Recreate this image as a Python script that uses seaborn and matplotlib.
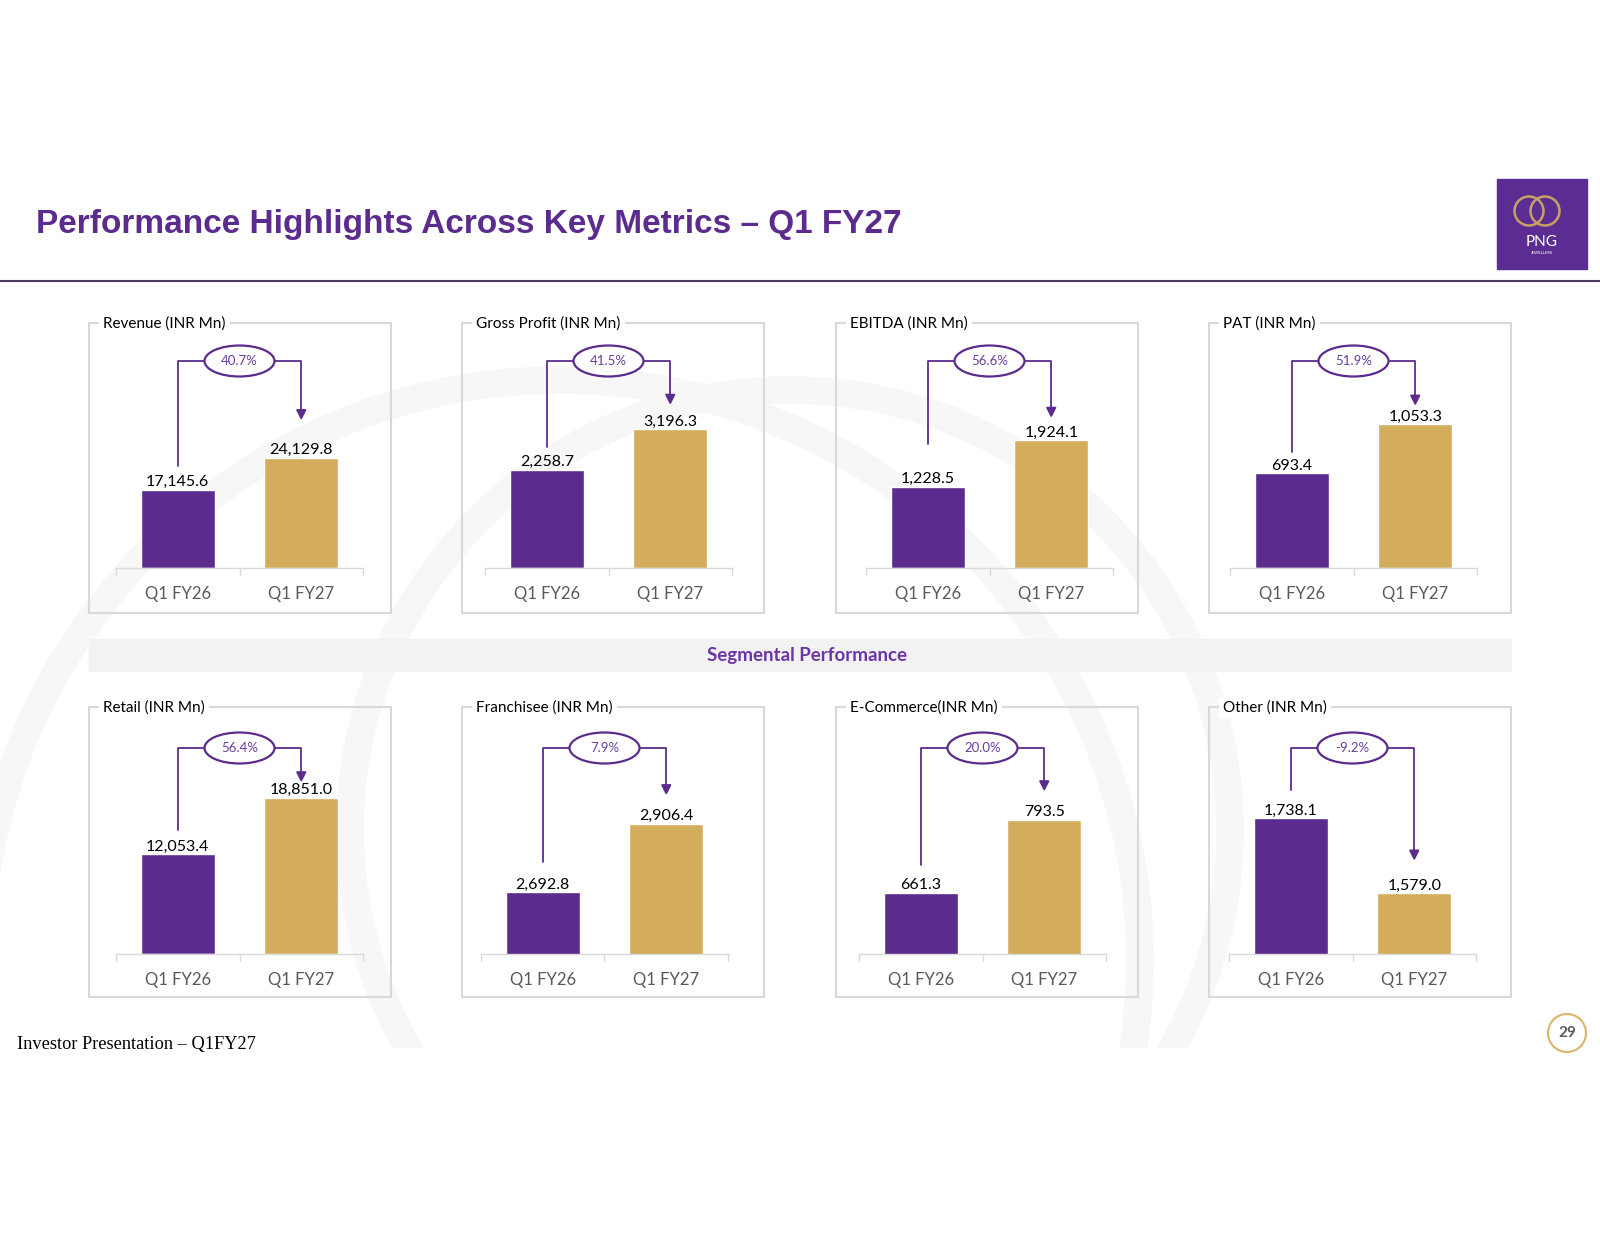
import matplotlib
matplotlib.use("Agg")
import matplotlib.pyplot as plt
import seaborn as sns
import pandas as pd
from matplotlib.patches import Rectangle, Ellipse, Polygon
from matplotlib.lines import Line2D

# ---- data ----
periods = ["Q1 FY26", "Q1 FY27"]
metric_titles = ["Revenue (INR Mn)", "Gross Profit (INR Mn)", "EBITDA (INR Mn)", "PAT (INR Mn)",
                 "Retail (INR Mn)", "Franchisee (INR Mn)", "E-Commerce(INR Mn)", "Other (INR Mn)"]
q1_fy26 = [17145.6, 2258.7, 1228.5, 693.4, 12053.4, 2692.8, 661.3, 1738.1]
q1_fy27 = [24129.8, 3196.3, 1924.1, 1053.3, 18851.0, 2906.4, 793.5, 1579.0]
growth_labels = ["40.7%", "41.5%", "56.6%", "51.9%", "56.4%", "7.9%", "20.0%", "-9.2%"]

# value axis ranges of the original Excel charts
y_lower = [0, 0, 0, 0, 0, 2500, 550, 1450]
y_upper = [45300, 4775, 3122, 1517, 24880, 3143, 924, 1887]

PURPLE = "#5B2C8E"
GOLD = "#D3AD5B"
GREY_LINE = "#D9D9D9"

sns.set_theme(style="white")
plt.rcParams['font.family'] = ['Lato', 'DejaVu Sans']

W, H = 1600, 1236
fig = plt.figure(figsize=(16, 12.36), dpi=100)
fig.patch.set_facecolor("white")


def fx(x):
    return x / W


def fy(y):
    return 1 - y / H


# faint watermark rings behind the charts
clip = Rectangle((0, fy(1048)), 1, (1048 - 285) / H, transform=fig.transFigure)
for (cx, cy, r) in [(560, 960, 580), (790, 830, 440)]:
    ring = Ellipse((fx(cx), fy(cy)), 2 * r / W, 2 * r / H, fill=False,
                   edgecolor="#F7F7F7", lw=20, transform=fig.transFigure, zorder=0)
    fig.add_artist(ring)
    ring.set_clip_path(clip)

# header
fig.text(fx(36), fy(224), "Performance Highlights Across Key Metrics \u2013 Q1 FY27",
         family="Liberation Sans", weight="bold", size=24, color=PURPLE, va="center")
fig.add_artist(Line2D([0, 1], [fy(281), fy(281)], color="#4A3B63", lw=1.5,
                      transform=fig.transFigure))

# logo
fig.add_artist(Rectangle((fx(1497), fy(269)), 90 / W, 90 / H, color="#5B2C91",
                         transform=fig.transFigure))
for cx in [1529, 1545]:
    fig.add_artist(Ellipse((fx(cx), fy(211)), 29 / W, 29 / H, fill=False,
                           edgecolor="#C9A063", lw=1.8, transform=fig.transFigure))
fig.text(fx(1542), fy(242), "PNG", color="white", size=11, ha="center", va="center")
fig.text(fx(1542), fy(253), "JEWELLERS", color="white", size=3, ha="center", va="center")

# panel layout (pixels)
col_left = [89, 462, 836, 1209]
row_top = [323, 707]
panel_w, panel_h = 302, 290
baseline = [568, 954]
axes_top = [361, 748]
ax_off = [27, 23, 30, 21, 27, 19, 23, 20]
ax_w = 247
left_gap = [24, 23, 43, 21, 24, 30, 28, 28]
tip_gap = [39, 26, 24, 20, 17, 30, 30, 34]

# segmental band
fig.add_artist(Rectangle((fx(89), fy(671)), (1511 - 89) / W, 32 / H, color="#F2F2F2",
                         transform=fig.transFigure, zorder=1))
fig.text(fx(807), fy(656), "Segmental Performance", weight="bold", size=13.5,
         color="#6B35A8", ha="center", va="center")


def to_px(ax, x, y):
    dx, dy = ax.transData.transform((x, y))
    return dx, H - dy


for i, title in enumerate(metric_titles):
    r, c = divmod(i, 4)
    left, top = col_left[c], row_top[r]

    # panel frame and its title
    fig.add_artist(Rectangle((fx(left), fy(top + panel_h)), panel_w / W, panel_h / H,
                             fill=False, edgecolor=GREY_LINE, lw=1.5,
                             transform=fig.transFigure, zorder=1))
    fig.text(fx(left + 14), fy(top + 1), title, size=11, color="black", va="center", ha="left",
             bbox=dict(facecolor="white", edgecolor="none", pad=3), zorder=3)

    ax = fig.add_axes([fx(left + ax_off[i]), fy(baseline[r]), ax_w / W,
                       (baseline[r] - axes_top[r]) / H])
    df = pd.DataFrame({"period": periods, "value": [q1_fy26[i], q1_fy27[i]]})
    sns.barplot(data=df, x="period", y="value", hue="period", palette=[PURPLE, GOLD],
                saturation=1, width=0.6, legend=False, ax=ax)
    ax.set_xlim(-0.5, 1.5)
    ax.set_ylim(y_lower[i], y_upper[i])
    ax.set_facecolor("none")
    ax.set_yticks([])
    ax.set_xlabel("")
    ax.set_ylabel("")
    for s in ["top", "left", "right"]:
        ax.spines[s].set_visible(False)
    ax.spines["bottom"].set_color(GREY_LINE)
    ax.spines["bottom"].set_linewidth(1)
    ax.tick_params(axis="x", length=0, pad=13, labelsize=12, labelcolor="#595959")
    for xs in [-0.5, 0.5, 1.5]:
        ax.plot([xs, xs], [0, -0.035], color=GREY_LINE, lw=1,
                transform=ax.get_xaxis_transform(), clip_on=False)
    for cont in ax.containers:
        ax.bar_label(cont, fmt="{:,.1f}", padding=0.5, fontsize=11.5, color="black")

    # growth bracket
    x0, y0 = to_px(ax, 0, q1_fy26[i])
    x1, y1 = to_px(ax, 1, q1_fy27[i])
    yt = axes_top[r]
    cx = (x0 + x1) / 2
    ew, eh = 70, 31
    tip = y1 - tip_gap[i]
    kw = dict(color=PURPLE, lw=1.3, transform=fig.transFigure, zorder=4)
    fig.add_artist(Line2D([fx(x0), fx(x0), fx(cx - ew / 2)],
                          [fy(y0 - left_gap[i]), fy(yt), fy(yt)], **kw))
    fig.add_artist(Line2D([fx(cx + ew / 2), fx(x1), fx(x1)],
                          [fy(yt), fy(yt), fy(tip - 8)], **kw))
    fig.add_artist(Polygon([[fx(x1 - 4.5), fy(tip - 9)], [fx(x1 + 4.5), fy(tip - 9)],
                            [fx(x1), fy(tip)]], closed=True, color=PURPLE,
                           transform=fig.transFigure, zorder=4))
    fig.add_artist(Ellipse((fx(cx), fy(yt)), ew / W, eh / H, facecolor="white",
                           edgecolor=PURPLE, lw=1.6, transform=fig.transFigure, zorder=5))
    fig.text(fx(cx), fy(yt), growth_labels[i], size=9.5, color="#6A3FA0",
             ha="center", va="center", zorder=6)

# footer
fig.text(fx(17), fy(1044), "Investor Presentation \u2013 Q1FY27", family="Liberation Serif",
         size=13.2, color="black", va="center")
fig.add_artist(Ellipse((fx(1567), fy(1033)), 38 / W, 38 / H, facecolor="white",
                       edgecolor="#D9B66A", lw=1.5, transform=fig.transFigure))
fig.text(fx(1567), fy(1033), "29", weight="bold", size=11, color="#595959",
         ha="center", va="center")

fig.savefig("out.png", dpi=100, facecolor="white")
